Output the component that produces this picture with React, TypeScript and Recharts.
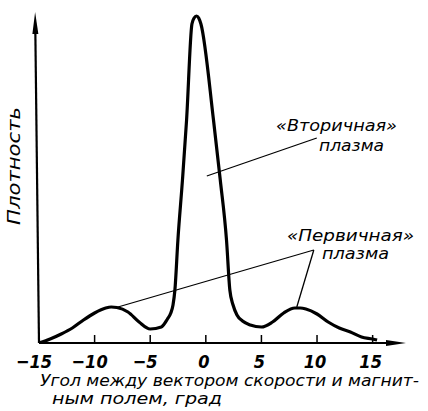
import React from 'react';
import { LineChart, Line, XAxis, YAxis, ReferenceLine } from 'recharts';

// angle between velocity vector and magnetic field, degrees
const angles = [
  -15, -14, -13, -12, -11, -10, -9, -8.5, -8, -7, -6, -5, -4, -3.45, -3.15, -2.95, -2.78,
  -2.51, -2.1, -1.73, -1.25, -1.05, -0.84, -0.64, -0.44, 0.69, 1.3, 1.86, 2.16, 2.45, 2.8, 3.3, 4, 5,
  6, 7, 8, 8.5, 9, 10, 11, 12, 13, 14, 15, 15.4,
];
// density (arbitrary units)
const density = [
  0, 4, 9, 15, 23, 30, 35, 36, 35.5, 31, 21, 14, 16, 24, 30, 38, 53,
  103, 163, 223, 319, 325, 327, 325, 319, 223, 163, 103, 53, 38, 28, 22, 18, 16,
  21, 30, 35, 35, 34, 29, 21, 15, 11, 6, 4, 3,
];
const xTicks = [-15, -10, -5, 0, 5, 10, 15];
const tickMarks = [-10, -5, 0, 5, 10, 15];

const data = angles.map((a, i) => ({ angle: a, density: density[i] }));

const font = "'Liberation Sans Narrow', 'DejaVu Sans Condensed', 'DejaVu Sans', sans-serif";

const Arrow = (props: any) => {
  const { x1, y1, x2, y2, len = 18, half = 3.5, sw = 2 } = props;
  const dx = x2 - x1;
  const dy = y2 - y1;
  const d = Math.sqrt(dx * dx + dy * dy) || 1;
  const ux = dx / d;
  const uy = dy / d;
  const bx = x2 - ux * len;
  const by = y2 - uy * len;
  const px = -uy * half;
  const py = ux * half;
  return (
    <g>
      <line x1={x1} y1={y1} x2={bx} y2={by} stroke="#000" strokeWidth={sw} />
      <polygon points={`${x2},${y2} ${bx + px},${by + py} ${bx - px},${by - py}`} fill="#000" />
    </g>
  );
};

const Tick = (props: any) => {
  const { x, y, payload } = props;
  const v = payload.value as number;
  const label = v < 0 ? '\u2212' + Math.abs(v) : String(v);
  return (
    <text
      x={x + (v < 0 ? -5 : -2)}
      y={y + 25}
      textAnchor="middle"
      fontFamily={font}
      fontStyle="italic"
      fontWeight="bold"
      fontSize={18}
      fill="#000"
    >
      {label}
    </text>
  );
};

const textStyle = { fontFamily: font, fontStyle: 'italic' as const, fontSize: 16, fill: '#000' };

export default function App() {
  return (
    <div style={{ position: 'absolute', left: 0, top: 0, width: 428, height: 411, background: '#fff' }}>
      <LineChart width={428} height={411} data={data} margin={{ top: 12, right: 22, bottom: 0, left: 39 }}>
        <XAxis
          dataKey="angle"
          type="number"
          domain={[-15, 18]}
          ticks={xTicks}
          height={68}
          axisLine={false}
          tickLine={false}
          tickSize={0}
          tickMargin={0}
          tick={<Tick />}
          allowDataOverflow
        />
        <YAxis type="number" domain={[0, 331]} hide allowDataOverflow />

        {/* axes with arrows */}
        <ReferenceLine
          segment={[{ x: -15, y: 0 }, { x: 18, y: 0 }]}
          ifOverflow="visible"
          shape={(p: any) => <Arrow {...p} len={20} half={3} sw={2.2} />}
        />
        <ReferenceLine
          segment={[{ x: -15, y: 0 }, { x: -15.35, y: 331 }]}
          ifOverflow="visible"
          shape={(p: any) => <Arrow {...p} len={22} half={3} sw={2.2} />}
        />
        {tickMarks.map((t) => (
          <ReferenceLine
            key={t}
            segment={[{ x: t, y: 0 }, { x: t, y: 8 }]}
            stroke="#000"
            strokeWidth={1.5}
            ifOverflow="visible"
          />
        ))}

        {/* leader lines */}
        <ReferenceLine segment={[{ x: 0.09, y: 167 }, { x: 9.98, y: 205 }]} stroke="#000" strokeWidth={1.3} ifOverflow="visible" />
        <ReferenceLine segment={[{ x: -7.9, y: 36 }, { x: 9.71, y: 93 }]} stroke="#000" strokeWidth={1.3} ifOverflow="visible" />
        <ReferenceLine segment={[{ x: 8.18, y: 36 }, { x: 9.71, y: 93 }]} stroke="#000" strokeWidth={1.3} ifOverflow="visible" />

        <Line
          type="monotone"
          dataKey="density"
          stroke="#000"
          strokeWidth={3.2}
          dot={false}
          activeDot={false}
          isAnimationActive={false}
        />

        <text x={276} y={131} textLength={121} lengthAdjust="spacingAndGlyphs" {...textStyle}>«Вторичная»</text>
        <text x={319} y={151} textLength={65} lengthAdjust="spacingAndGlyphs" {...textStyle}>плазма</text>
        <text x={287} y={241} textLength={127} lengthAdjust="spacingAndGlyphs" {...textStyle}>«Первичная»</text>
        <text x={322} y={259} textLength={67} lengthAdjust="spacingAndGlyphs" {...textStyle}>плазма</text>

        <text x={40} y={386} textLength={379} lengthAdjust="spacingAndGlyphs" {...textStyle} fontSize={16.5}>
          Угол между вектором скорости и магнит-
        </text>
        <text x={52} y={404} textLength={170} lengthAdjust="spacingAndGlyphs" {...textStyle} fontSize={16.5}>
          ным полем, град
        </text>
        <text
          x={20}
          y={166}
          transform="rotate(-90 20 166)"
          textAnchor="middle"
          textLength={118}
          lengthAdjust="spacingAndGlyphs"
          {...textStyle}
          fontSize={18}
        >
          Плотность
        </text>
      </LineChart>
    </div>
  );
}
